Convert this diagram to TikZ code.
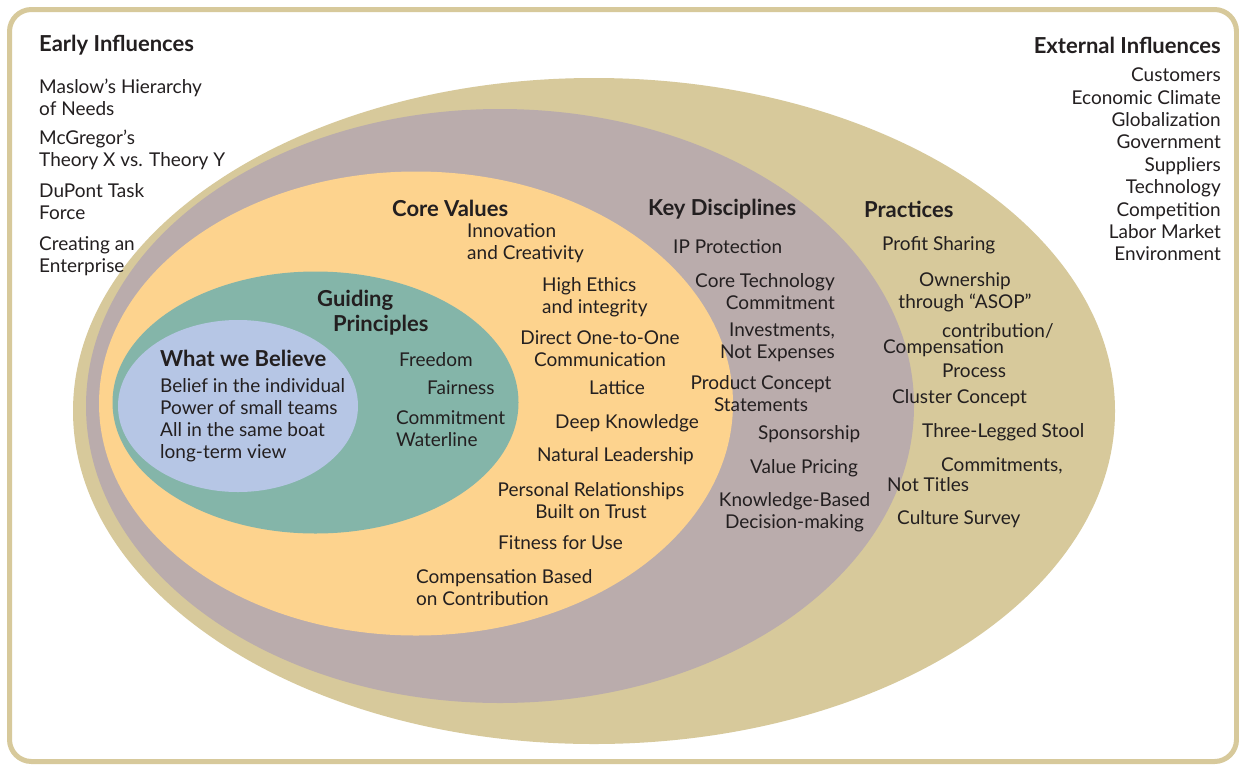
\documentclass[tikz,border=0pt]{standalone}
\usepackage{fontspec}
\setmainfont{Lato}
\definecolor{tanc}{HTML}{D7C99B}
\definecolor{mauve}{HTML}{BAACAC}
\definecolor{yel}{HTML}{FDD38E}
\definecolor{teal}{HTML}{84B5A9}
\definecolor{blu}{HTML}{B6C6E5}
\definecolor{txt}{HTML}{231F20}
\tikzset{
  t/.style={font=\fontsize{19}{22}\selectfont, text=txt, inner sep=0pt, anchor=west, align=left},
  tr/.style={t, anchor=east, align=right},
  tc/.style={t, anchor=center, align=center},
  hd/.style={t, font=\bfseries\fontsize{22}{25}\selectfont},
}
\begin{document}
\begin{tikzpicture}[x=1pt,y=-1pt]
\useasboundingbox (0,0) rectangle (1239,764);
\fill[white] (0,0) rectangle (1239,764);
\draw[tanc, line width=5pt, rounded corners=22pt] (9.5,9.5) rectangle (1236.5,761.5);
% ellipses
\fill[tanc] (594,411) ellipse [x radius=521pt, y radius=333pt];
\fill[mauve] (500,406) ellipse [x radius=414pt, y radius=297pt];
\fill[yel] (416,403.5) ellipse [x radius=317pt, y radius=232pt];
\fill[teal] (315.5,402.5) ellipse [x radius=203pt, y radius=131pt];
\fill[blu] (238,406) ellipse [x radius=120pt, y radius=86pt];
% early influences
\node[hd] (ei) at (39,45) {Early Influences};
\node[t] (m1) at (39,97) {Maslow’s Hierarchy\\of Needs};
\node[t] (m2) at (39,150) {McGregor’s\\Theory X vs. Theory Y};
\node[t] (m3) at (39,202) {DuPont Task\\Force};
\node[t] (m4) at (39,256) {Creating an\\Enterprise};
% external influences
\node[hd, anchor=east] (xi) at (1221,45) {External Influences};
\node[tr, font=\fontsize{19}{22.4}\selectfont] (xl) at (1221,164.5) {Customers\\Economic Climate\\Globalization\\Government\\Suppliers\\Technology\\Competition\\Labor Market\\Environment};
% what we believe
\node[hd] (wb) at (160,358) {What we Believe};
\node[t] (wbl) at (160,420) {Belief in the individual\\Power of small teams\\All in the same boat\\long-term view};
% guiding principles
\node[hd] (gp1) at (317,300) {Guiding};
\node[hd] (gp2) at (333,325) {Principles};
\node[t] (g1) at (399,360) {Freedom};
\node[t] (g2) at (427,388) {Fairness};
\node[t] (g3) at (396,429) {Commitment\\Waterline};
% core values
\node[hd] (cv) at (392,208) {Core Values};
\node[t] (c1) at (467,243.5) {Innovation\\and Creativity};
\node[t] (c2) at (542,297.5) {High Ethics\\and integrity};
\node[tc] (c3) at (600,349) {Direct One-to-One\\Communication};
\node[t] (c4) at (589,388) {Lattice};
\node[t] (c5) at (555,423) {Deep Knowledge};
\node[t] (c6) at (537,456) {Natural Leadership};
\node[tc] (c7) at (591,501) {Personal Relationships\\Built on Trust};
\node[t] (c8) at (498,543) {Fitness for Use};
\node[t] (c9) at (416,588) {Compensation Based\\on Contribution};
% key disciplines
\node[hd] (kd) at (648,209) {Key Disciplines};
\node[t] (k1) at (673,247) {IP Protection};
\node[tr] (k2) at (835,292) {Core Technology\\Commitment};
\node[tr] (k3) at (835,342) {Investments,\\Not Expenses};
\node[tc] (k4) at (761,394) {Product Concept\\Statements};
\node[t] (k5) at (758,434) {Sponsorship};
\node[t] (k6) at (750,468) {Value Pricing};
\node[tc] (k7) at (794.5,512.5) {Knowledge-Based\\Decision-making};
% practices
\node[hd] (pr) at (864,209) {Practices};
\node[t] (p1) at (882,245) {Profit Sharing};
\node[tc] (p2) at (965,292) {Ownership\\through “ASOP”};
\node[t] (p3a) at (942,331) {contribution/};
\node[t] (p3b) at (883,348) {Compensation};
\node[t] (p3c) at (942,371) {Process};
\node[t] (p4) at (892,398) {Cluster Concept};
\node[t] (p5) at (922,432) {Three-Legged Stool};
\node[t] (p6a) at (941,466) {Commitments,};
\node[t] (p6b) at (887,485) {Not Titles};
\node[t] (p7) at (897,519) {Culture Survey};
\end{tikzpicture}
\end{document}
